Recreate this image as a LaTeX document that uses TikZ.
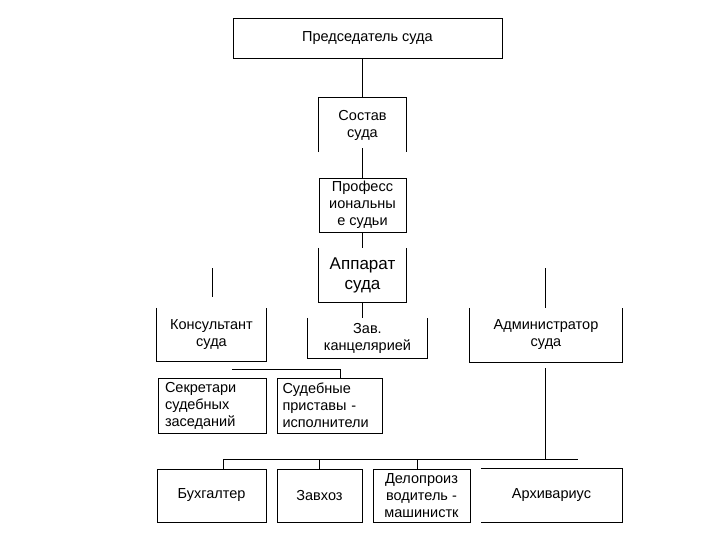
\documentclass[tikz,border=0pt]{standalone}
\usepackage{fontspec}
\setmainfont{Liberation Sans}
\usetikzlibrary{positioning,calc}
\tikzset{
  unit/.style={inner sep=0pt,align=center,font=\fontsize{14.5}{17}\selectfont},
  box/.style={unit,draw,line width=0.9pt},
  bigunit/.style={unit,font=\fontsize{17}{20}\selectfont},
  link/.style={line width=0.9pt},
}
% three sides of a box whose top edge is missing
\newcommand{\opentop}[1]{\draw[link] (#1.north west) -- (#1.south west) -- (#1.south east) -- (#1.north east);}
\begin{document}
\begin{tikzpicture}[x=1pt,y=-1pt]
\useasboundingbox[fill=white] (0,0) rectangle (720,540);
% top of the chart
\node[box,minimum width=269pt,minimum height=40pt] (chair) at (367.5,38) {Председатель суда};
\node[unit,minimum width=87pt,minimum height=54pt] (bench) at (362.5,125) {Состав\\суда};
\draw[link] (bench.south west) -- (bench.north west) -- (bench.north east) -- (bench.south east);
\node[box,minimum width=87pt,minimum height=54pt] (judges) at (362.5,205) {Професс\\иональны\\е судьи};
\node[bigunit,minimum width=87pt,minimum height=54pt] (staff) at (362.5,275) {Аппарат\\суда};
\opentop{staff}
% middle row
\node[unit,minimum width=109pt,minimum height=53pt] (advisor) at (211.5,334.5) {Консультант\\суда};
\opentop{advisor}
\node[unit,minimum width=119pt,minimum height=40pt] (office) at (367.5,338) {Зав.\\канцелярией};
\opentop{office}
\node[unit,minimum width=152pt,minimum height=54pt] (admin) at (546,335) {Администратор\\суда};
\opentop{admin}
\node[box,minimum width=108pt,minimum height=55pt,text width=94pt,align=left] (clerks) at (212,405.5) {Секретари\\судебных\\заседаний};
\node[box,minimum width=105pt,minimum height=55pt,text width=94pt,align=left] (bailiffs) at (329.5,405.5) {Судебные\\приставы -\\исполнители};
% bottom row
\node[box,minimum width=109pt,minimum height=53pt] (account) at (211.5,495.5) {Бухгалтер};
\node[box,minimum width=85pt,minimum height=53pt] (supply) at (319.5,495.5) {Завхоз};
\node[box,minimum width=97pt,minimum height=53pt] (typist) at (421.5,495.5) {Делопроиз\\водитель -\\машинистк};
\node[unit,minimum width=141pt,minimum height=53pt] (archive) at (551.5,495.5) {Архивариус};
\draw[link] (archive.north west) -- (archive.north east) -- (archive.south east) -- (archive.south west);
% connectors
\coordinate (advtop) at (212,268);
\coordinate (admtop) at (545,268);
\coordinate (bracketL) at (232,369);
\coordinate (bracketR) at (340,369);
\coordinate (admdown) at (545,368);
\coordinate (rowL) at (223,459);
\coordinate (rowR) at (578,459);
\draw[link] (bench.north |- chair.south) -- (bench.north);
\draw[link] ($(bench.south)+(0,-4)$) -- (judges.north);
\draw[link] (judges.south) -- (staff.north);
\draw[link] (staff.south) -- (staff.south |- office.north);
\draw[link] (advtop) -- ($(advisor.north)+(0.5,-11)$);
\draw[link] (admtop) -- (admtop |- admin.north);
\draw[link] (bracketL) -- (bracketR) -- (bracketR |- bailiffs.north);
\draw[link] (admdown) -- (admdown |- rowL);
\draw[link] (rowL) -- (rowR);
\draw[link] (rowL) -- (rowL |- account.north);
\draw[link] (rowL -| supply.north) -- (supply.north);
\draw[link] (rowL -| 417,0) -- (417,0 |- typist.north);
\end{tikzpicture}
\end{document}
